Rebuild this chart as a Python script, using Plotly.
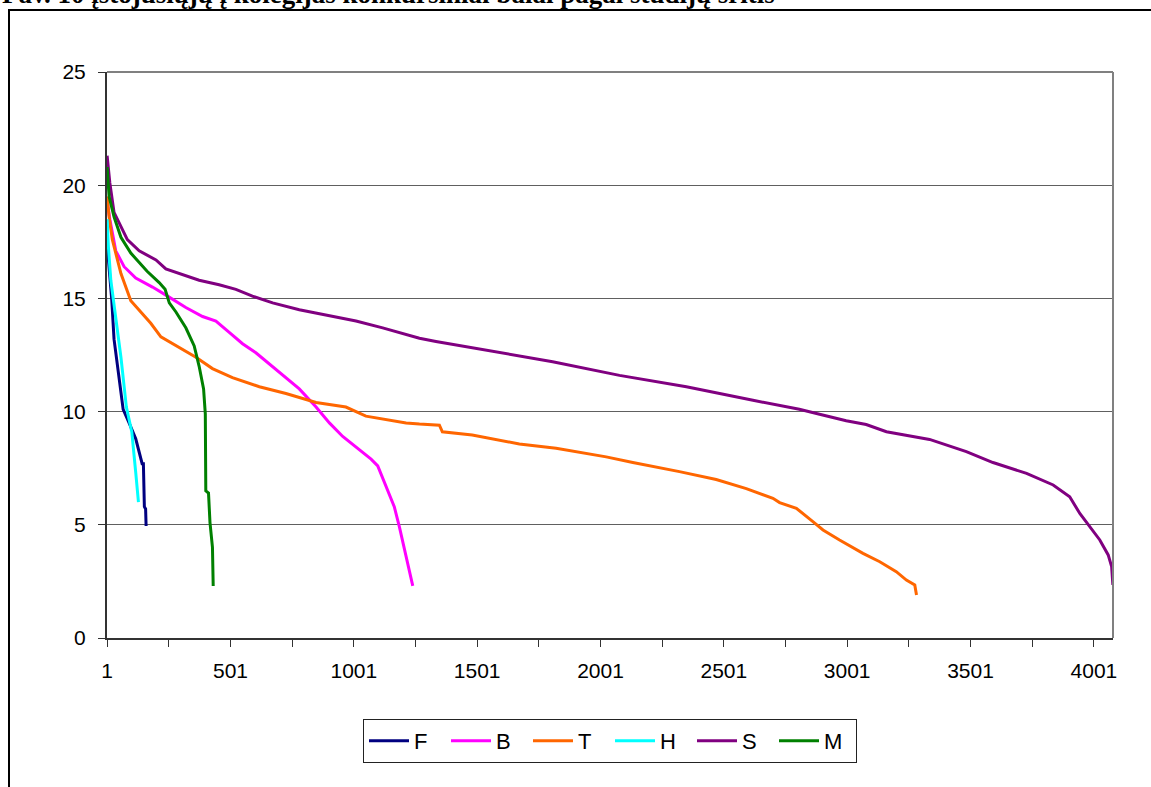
import plotly.graph_objects as go

# ---- data (rank -> score) ----
f_rank = [1, 20, 29, 46, 66, 90, 117, 143, 148, 152, 157, 159]
f_val = [17.4, 14.9, 13.2, 11.7, 10.1, 9.5, 8.8, 7.7, 7.7, 5.8, 5.7, 4.95]

b_rank = [1, 12, 36, 70, 117, 185, 246, 320, 388, 442, 496, 550, 604, 658, 726,
          780, 848, 902, 956, 1024, 1071, 1098, 1132, 1165, 1186, 1206, 1240]
b_val = [19.3, 18.5, 17.1, 16.4, 15.9, 15.5, 15.1, 14.6, 14.2, 14.0, 13.5, 13.0,
         12.6, 12.1, 11.5, 11.0, 10.2, 9.5, 8.9, 8.3, 7.9, 7.6, 6.7, 5.8, 4.9, 3.9, 2.3]

t_rank = [1, 9, 22, 57, 97, 138, 178, 219, 280, 361, 428, 509, 618, 726, 848, 969,
          1050, 1213, 1267, 1348, 1360, 1481, 1672, 1821, 2024, 2132, 2321, 2470,
          2592, 2700, 2727, 2795, 2862, 2903, 2970, 3065, 3133, 3200, 3241, 3275, 3282]
t_val = [19.5, 18.6, 17.6, 16.1, 14.9, 14.4, 13.9, 13.3, 12.9, 12.4, 11.9, 11.5,
         11.1, 10.8, 10.4, 10.2, 9.8, 9.5, 9.45, 9.4, 9.11, 8.97, 8.57, 8.38, 8.0,
         7.75, 7.35, 7.0, 6.6, 6.17, 5.98, 5.73, 5.14, 4.77, 4.33, 3.74, 3.37, 2.93,
         2.56, 2.34, 1.9]

h_rank = [1, 6, 16, 36, 57, 79, 101, 117, 128]
h_val = [18.5, 17.3, 15.8, 14.2, 12.4, 10.2, 9.1, 7.3, 6.0]

s_rank = [1, 12, 29, 57, 83, 131, 199, 239, 293, 374, 455, 523, 590, 672, 780, 874,
          1010, 1118, 1213, 1267, 1334, 1537, 1807, 2078, 2349, 2619, 2807, 2889,
          2997, 3078, 3160, 3335, 3484, 3592, 3728, 3836, 3903, 3944, 3985, 4025,
          4059, 4073, 4078]
s_val = [21.3, 20.1, 18.8, 18.2, 17.6, 17.1, 16.7, 16.3, 16.1, 15.8, 15.6, 15.4,
         15.1, 14.8, 14.5, 14.3, 14.0, 13.7, 13.4, 13.24, 13.1, 12.72, 12.2, 11.6,
         11.1, 10.5, 10.1, 9.88, 9.6, 9.43, 9.11, 8.77, 8.23, 7.75, 7.27, 6.76,
         6.24, 5.5, 4.92, 4.33, 3.67, 3.15, 2.34]

m_rank = [1, 9, 29, 57, 97, 131, 163, 212, 236, 253, 280, 320, 354, 374, 392, 399,
          401, 412, 418, 428, 431]
m_val = [20.8, 19.5, 18.6, 17.7, 17.0, 16.6, 16.2, 15.7, 15.4, 14.8, 14.4, 13.7,
         12.9, 12.0, 11.0, 9.9, 6.5, 6.4, 5.1, 4.0, 2.3]

series_names = ["F", "B", "T", "H", "S", "M"]
series_colors = ["#000080", "#FF00FF", "#FF6600", "#00FFFF", "#800080", "#008000"]

x_tickvals = [1, 501, 1001, 1501, 2001, 2501, 3001, 3501, 4001]
x_minor = [251, 751, 1251, 1751, 2251, 2751, 3251, 3751]
y_tickvals = [0, 5, 10, 15, 20, 25]

title_text = "Pav. 10 įstojusiųjų į kolegijas konkursiniai balai pagal studijų sritis"

# ---- figure ----
W, H = 1151, 787
L, R, T, B = 107, 1113, 72, 638
pw, ph = R - L, B - T

def px(xp):
    return (xp - L) / pw

def py(yp):
    return (B - yp) / ph

fig = go.Figure()
data = [(f_rank, f_val), (b_rank, b_val), (t_rank, t_val),
        (h_rank, h_val), (s_rank, s_val), (m_rank, m_val)]
for (xs, ys), name, col in zip(data, series_names, series_colors):
    fig.add_trace(go.Scatter(x=xs, y=ys, name=name, mode="lines",
                             line=dict(color=col, width=3)))

font_sans = "Arial, Liberation Sans, sans-serif"

fig.update_layout(
    width=W, height=H,
    margin=dict(l=L, r=W - R, t=T, b=H - B, pad=0),
    paper_bgcolor="white", plot_bgcolor="white",
    font=dict(family=font_sans, size=21, color="black"),
    showlegend=True,
    legend=dict(orientation="h", x=0.5, xanchor="center", y=py(719), yanchor="top",
                bordercolor="#222", borderwidth=1, bgcolor="white",
                font=dict(size=22, family=font_sans), traceorder="normal",
                itemwidth=40, entrywidth=27),
    xaxis=dict(range=[0.5, 4078.5], tickmode="array", tickvals=x_tickvals,
               ticktext=[str(v) for v in x_tickvals],
               ticks="outside", ticklen=7, tickcolor="#333", tickwidth=1,
               showline=True, linecolor="#333", linewidth=2,
               showgrid=False, zeroline=False,
               minor=dict(tickmode="array", tickvals=x_minor, ticks="outside",
                          ticklen=7, tickcolor="#333", tickwidth=1),
               tickfont=dict(size=21), ticklabelstandoff=6),
    yaxis=dict(range=[0, 25], tickmode="array", tickvals=y_tickvals,
               ticks="outside", ticklen=7, tickcolor="#333", tickwidth=1,
               showline=True, linecolor="#333", linewidth=2,
               showgrid=True, gridcolor="#606060", gridwidth=1.3,
               zeroline=False, tickfont=dict(size=21), ticklabelstandoff=8),
)

# plot-area right/top border (gray)
fig.add_shape(type="line", xref="paper", yref="paper", x0=1, x1=1, y0=0, y1=1,
              line=dict(color="#808080", width=2))
fig.add_shape(type="line", xref="paper", yref="paper", x0=0, x1=1, y0=1, y1=1,
              line=dict(color="#808080", width=2))

# outer chart border (black), extends past the page edges
fig.add_shape(type="rect", xref="paper", yref="paper",
              x0=px(9), x1=px(1200), y0=py(830), y1=py(10),
              line=dict(color="black", width=2), layer="below")

# cut-off caption at the very top
fig.add_annotation(text="<b>" + title_text + "</b>", xref="paper", yref="paper",
                   x=px(0), y=py(11), xanchor="left", yanchor="bottom",
                   showarrow=False,
                   font=dict(family="Times New Roman, Liberation Serif, serif",
                             size=27, color="black"))

fig.write_html("out.html", config={"displayModeBar": False},
               post_script="document.body.style.margin='0';document.body.style.padding='0';")
